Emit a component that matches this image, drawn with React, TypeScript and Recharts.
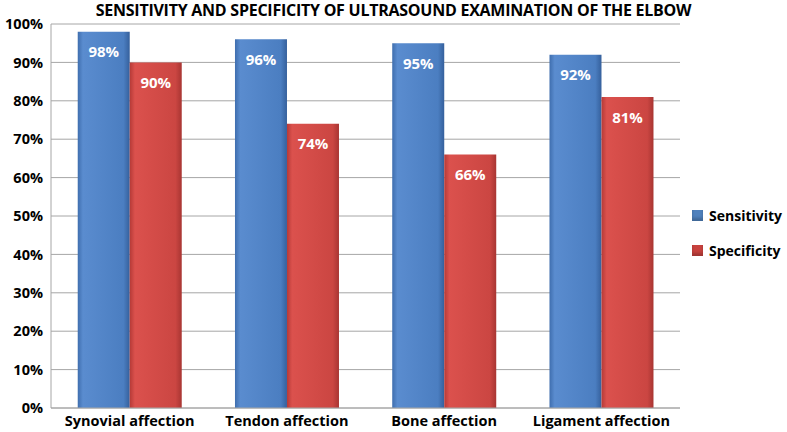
import { BarChart, Bar, XAxis, YAxis, CartesianGrid, Legend, LabelList } from "recharts";

const categories = ["Synovial affection", "Tendon affection", "Bone affection", "Ligament affection"];
const sensitivity = [98, 96, 95, 92];
const specificity = [90, 74, 66, 81];
const yTicks = [0, 10, 20, 30, 40, 50, 60, 70, 80, 90, 100];

const data = categories.map((name, i) => ({
  name,
  Sensitivity: sensitivity[i],
  Specificity: specificity[i],
}));

const FONT = "'Open Sans', sans-serif";

const legendItems = [
  { name: "Sensitivity", color: "#4f81bd" },
  { name: "Specificity", color: "#c8423e" },
];

function LegendBox() {
  return (
    <div style={{ width: 100, paddingLeft: 5, paddingTop: 34, boxSizing: "border-box" }}>
      {legendItems.map((item) => (
        <div key={item.name} style={{ display: "flex", alignItems: "center", height: 35, whiteSpace: "nowrap" }}>
          <span style={{ width: 11, height: 11, background: item.color, marginRight: 6, boxShadow: "inset 0 -3px 3px rgba(0,0,0,0.2)" }} />
          <span style={{ color: "#000", fontWeight: 700, fontSize: 14, fontFamily: FONT }}>{item.name}</span>
        </div>
      ))}
    </div>
  );
}

export default function App() {
  return (
    <div style={{ position: "absolute", left: 0, top: 0, width: 787, height: 432, background: "#fff", fontFamily: FONT }}>
      <div
        style={{
          position: "absolute",
          top: -1,
          left: 0,
          width: 787,
          textAlign: "center",
          fontWeight: 700,
          fontSize: 16,
          letterSpacing: -0.25,
          color: "#000",
        }}
      >
        SENSITIVITY AND SPECIFICITY OF ULTRASOUND EXAMINATION OF THE ELBOW
      </div>
      <BarChart
        width={787}
        height={432}
        data={data}
        margin={{ top: 24, right: 7, bottom: 0, left: 5 }}
        barCategoryGap="17%"
        barGap={0}
      >
        <defs>
          <linearGradient id="blueG" x1="0" y1="0" x2="1" y2="0">
            <stop offset="0%" stopColor="#3f6eae" />
            <stop offset="10%" stopColor="#5a8ccf" />
            <stop offset="88%" stopColor="#4b7ec1" />
            <stop offset="100%" stopColor="#35609c" />
          </linearGradient>
          <linearGradient id="redG" x1="0" y1="0" x2="1" y2="0">
            <stop offset="0%" stopColor="#b53a37" />
            <stop offset="10%" stopColor="#db514d" />
            <stop offset="88%" stopColor="#cb4642" />
            <stop offset="100%" stopColor="#a83532" />
          </linearGradient>
        </defs>
        <CartesianGrid vertical={false} stroke="#a6a6a6" />
        <XAxis
          dataKey="name"
          height={24}
          tickLine={false}
          axisLine={{ stroke: "#a6a6a6" }}
          tick={{ fill: "#000", fontSize: 14.5, fontWeight: 700, fontFamily: FONT }}
        />
        <YAxis
          width={46}
          domain={[0, 100]}
          ticks={yTicks}
          interval={0}
          tickFormatter={(v: number) => `${v}%`}
          tickLine={false}
          axisLine={{ stroke: "#a6a6a6" }}
          tick={{ fill: "#000", fontSize: 14.5, fontWeight: 700, fontFamily: FONT }}
        />
        <Legend
          layout="vertical"
          align="right"
          verticalAlign="middle"
          wrapperStyle={{ right: 0, width: 100 }}
          content={() => <LegendBox />}
        />
        <Bar dataKey="Sensitivity" fill="url(#blueG)" isAnimationActive={false}>
          <LabelList
            dataKey="Sensitivity"
            position="insideTop"
            offset={15}
            formatter={(v: number) => `${v}%`}
            style={{ fill: "#fff", fontWeight: 700, fontSize: 15, fontFamily: FONT }}
          />
        </Bar>
        <Bar dataKey="Specificity" fill="url(#redG)" isAnimationActive={false}>
          <LabelList
            dataKey="Specificity"
            position="insideTop"
            offset={15}
            formatter={(v: number) => `${v}%`}
            style={{ fill: "#fff", fontWeight: 700, fontSize: 15, fontFamily: FONT }}
          />
        </Bar>
      </BarChart>
    </div>
  );
}
